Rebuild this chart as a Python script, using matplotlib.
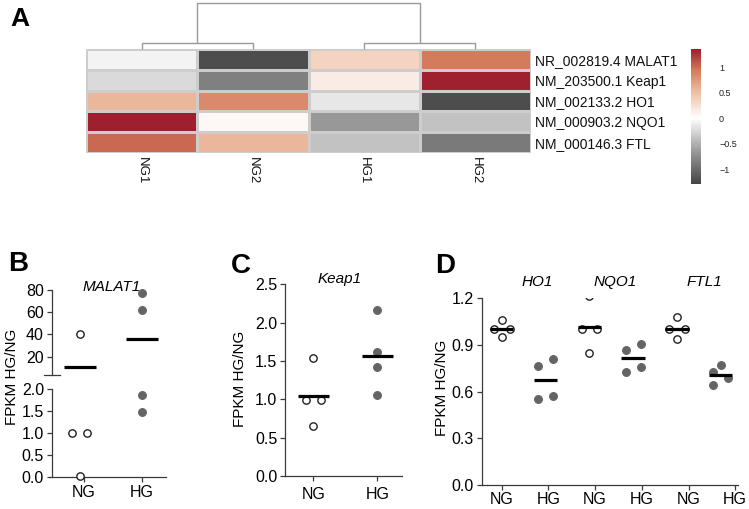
import numpy as np
import matplotlib
matplotlib.use('Agg')
import matplotlib.pyplot as plt
from matplotlib.colors import LinearSegmentedColormap, Normalize

plt.rcParams['font.family'] = ['Liberation Sans', 'DejaVu Sans']

# ---------------- data ----------------
samples = ['NG1', 'NG2', 'HG1', 'HG2']
genes = ['NR_002819.4 MALAT1', 'NM_203500.1 Keap1', 'NM_002133.2 HO1',
         'NM_000903.2 NQO1', 'NM_000146.3 FTL']
malat1_z = [-0.08, -1.23, 0.35, 0.94]
keap1_z = [-0.24, -0.85, 0.15, 1.34]
ho1_z = [0.56, 0.85, -0.15, -1.23]
nqo1_z = [1.35, 0.06, -0.66, -0.39]
ftl_z = [1.02, 0.56, -0.39, -0.89]
merge_ng, merge_hg, merge_root = 1.42, 1.29, 10.0
cbar_ticks = [-1, -0.5, 0, 0.5, 1]

groups = ['NG', 'HG']
malat1_ng = [40, 1.0, 1.0, 0.02]
malat1_hg = [77, 62, 1.87, 1.49]
keap1_ng = [1.535, 0.99, 0.99, 0.652]
keap1_hg = [2.165, 1.613, 1.417, 1.056]
ho1_ng = [1.06, 1.0, 1.0, 0.954]
ho1_hg = [0.765, 0.808, 0.551, 0.574]
nqo1_ng = [1.215, 1.0, 1.0, 0.846]
nqo1_hg = [0.868, 0.906, 0.728, 0.756]
ftl1_ng = [1.078, 1.0, 1.0, 0.938]
ftl1_hg = [0.771, 0.728, 0.686, 0.643]
d_genes = ['HO1', 'NQO1', 'FTL1']
ylabel = 'FPKM HG/NG'

# ---------------- layout helpers ----------------
W, H = 749, 509
fig = plt.figure(figsize=(W / 100, H / 100), dpi=100)


def fx(p):
    return p / W


def fy(p):
    return 1 - p / H


def box(x0, y0, x1, y1):
    return [fx(x0), fy(y1), (x1 - x0) / W, (y1 - y0) / H]


AX_COL = '#3a3a3a'
TICK_FS = 11.5
OPEN = dict(marker='o', ls='none', ms=5.3, mfc='white', mec='#222222', mew=1.0, zorder=3)
FILL = dict(marker='o', ls='none', ms=5.6, mfc='#646464', mec='#646464', mew=0.8, zorder=3)


def style(ax, bottom=True):
    for s in ['top', 'right']:
        ax.spines[s].set_visible(False)
    ax.spines['left'].set_color(AX_COL)
    ax.spines['left'].set_linewidth(0.9)
    ax.spines['bottom'].set_color(AX_COL)
    ax.spines['bottom'].set_linewidth(0.9)
    if not bottom:
        ax.spines['bottom'].set_visible(False)
        ax.tick_params(axis='x', bottom=False, labelbottom=False)
    ax.tick_params(direction='out', length=3.6, width=0.9, color=AX_COL,
                   labelsize=TICK_FS, pad=2)
    ax.patch.set_alpha(0)


# ---------------- Panel A: heatmap ----------------
cmap = LinearSegmentedColormap.from_list(
    'rdgy', [(0.0, '#454545'), (0.244, '#9a9a9a'), (0.489, '#ffffff'),
             (0.677, '#efc1a6'), (0.846, '#d47a5a'), (1.0, '#9e1f2e')])
norm = Normalize(vmin=-1.3, vmax=1.36)
Z = np.array([malat1_z, keap1_z, ho1_z, nqo1_z, ftl_z])

axh = fig.add_axes(box(86, 49.3, 531, 152.7))
mesh = axh.pcolormesh(np.arange(len(samples) + 1), np.arange(len(genes) + 1), Z,
                      cmap=cmap, norm=norm, edgecolors='#cdcdcd', linewidth=0.8)
axh.set_xlim(0, len(samples))
axh.set_ylim(len(genes), 0)
for s in axh.spines.values():
    s.set_visible(False)
axh.yaxis.tick_right()
axh.set_yticks(np.arange(len(genes)) + 0.5)
axh.set_yticklabels(genes, fontsize=10)
axh.set_xticks(np.arange(len(samples)) + 0.5)
axh.set_xticklabels(samples, rotation=270, fontsize=9.5, va='top', ha='center')
axh.tick_params(length=0, pad=3, colors='#111111')

# dendrogram
axd = fig.add_axes(box(86, 2.7, 531, 49.3))
axd.set_xlim(0, len(samples))
axd.set_ylim(0, merge_root)
axd.axis('off')
leaf = np.arange(len(samples)) + 0.5
DC = dict(color='#9a9a9a', lw=1.0, clip_on=False, solid_capstyle='butt')
c_ng = (leaf[0] + leaf[1]) / 2
c_hg = (leaf[2] + leaf[3]) / 2
axd.plot([leaf[0], leaf[0], leaf[1], leaf[1]], [0, merge_ng, merge_ng, 0], **DC)
axd.plot([leaf[2], leaf[2], leaf[3], leaf[3]], [0, merge_hg, merge_hg, 0], **DC)
axd.plot([c_ng, c_ng, c_hg, c_hg], [merge_ng, merge_root, merge_root, merge_hg], **DC)

# colorbar
cax = fig.add_axes(box(691, 49.3, 701, 184.3))
cb = fig.colorbar(mesh, cax=cax, ticks=cbar_ticks)
cb.outline.set_visible(False)
cb.ax.set_yticklabels([f'{t:g}'.replace('-', '\u2212') for t in cbar_ticks])
cb.ax.tick_params(length=0, labelsize=6.5, pad=13, colors='#222222')

fig.text(fx(20), fy(19), 'A', fontsize=19, fontweight='bold', ha='center', va='center')

# ---------------- Panel B: MALAT1 (broken axis) ----------------
b_center = [-0.065, 1.0]
b_ng_off = [0, -0.13, 0.13, 0]
b_hg_off = [0, 0, 0, 0]
b_xlim = (-0.55, 1.41)
axb_top = fig.add_axes(box(51.7, 290, 165.7, 375))
axb_bot = fig.add_axes(box(51.7, 389.3, 165.7, 476.7))
for ax, lo, hi in [(axb_top, 3.5, 80), (axb_bot, 0, 2.0)]:
    for c, offs, vals, st in [(b_center[0], b_ng_off, malat1_ng, OPEN),
                              (b_center[1], b_hg_off, malat1_hg, FILL)]:
        xs = np.array([c + o for o in offs])
        ys = np.array(vals, float)
        keep = (ys >= lo) & (ys <= hi)
        ax.plot(xs[keep], ys[keep], **st, clip_on=False)
        m = np.mean(vals)
        if lo <= m <= hi:
            ax.hlines(m, c - 0.27, c + 0.27, color='black', lw=2.3, zorder=4)
    ax.set_xlim(*b_xlim)
    ax.set_ylim(lo, hi)
style(axb_top, bottom=False)
style(axb_bot)
axb_top.set_yticks([20, 40, 60, 80])
axb_top.plot([-0.07, 0.07], [0, 0], transform=axb_top.transAxes, color=AX_COL,
             lw=0.9, clip_on=False)
axb_bot.set_yticks([0, 0.5, 1.0, 1.5, 2.0])
axb_bot.set_yticklabels(['0.0', '0.5', '1.0', '1.5', '2.0'])
axb_bot.set_xticks([0, 1])
axb_bot.set_xticklabels(groups)
axb_bot.tick_params(axis='x', pad=2.5)
fig.text(fx(112), fy(291), 'MALAT1', fontsize=11, style='italic', ha='center', va='baseline')
fig.text(fx(12), fy(377), ylabel, fontsize=11, rotation=90, ha='center', va='center')
fig.text(fx(18), fy(264), 'B', fontsize=20, fontweight='bold', ha='center', va='center')

# ---------------- Panel C: Keap1 ----------------
c_center = [0.0, 1.0]
c_ng_off = [0, -0.12, 0.12, 0]
c_hg_off = [0, 0, 0, 0]
axc = fig.add_axes(box(285, 284.3, 401.7, 476))
axc.plot([c_center[0] + o for o in c_ng_off], keap1_ng, **OPEN, clip_on=False)
axc.plot([c_center[1] + o for o in c_hg_off], keap1_hg, **FILL, clip_on=False)
for c, vals in zip(c_center, [keap1_ng, keap1_hg]):
    axc.hlines(np.mean(vals), c - 0.245, c + 0.245, color='black', lw=2.3, zorder=4)
axc.set_xlim(-0.44, 1.38)
axc.set_ylim(0, 2.5)
style(axc)
axc.set_yticks([0, 0.5, 1.0, 1.5, 2.0, 2.5])
axc.set_yticklabels(['0.0', '0.5', '1.0', '1.5', '2.0', '2.5'])
axc.set_xticks([0, 1])
axc.set_xticklabels(groups)
axc.tick_params(axis='x', pad=4)
fig.text(fx(340), fy(283), 'Keap1', fontsize=11, style='italic', ha='center', va='baseline')
fig.text(fx(240), fy(379), ylabel, fontsize=11, rotation=90, ha='center', va='center')
fig.text(fx(241), fy(266), 'C', fontsize=20, fontweight='bold', ha='center', va='center')

# ---------------- Panel D: HO1 / NQO1 / FTL1 ----------------
d_data = [ho1_ng, ho1_hg, nqo1_ng, nqo1_hg, ftl1_ng, ftl1_hg]
d_centers = np.arange(6) * 0.938
d_offsets = [[0, -0.17, 0.17, 0], [-0.16, 0.16, -0.16, 0.16],
             [0, -0.165, 0.16, 0], [-0.16, 0.16, -0.16, 0.16],
             [0, -0.17, 0.17, 0], [0.0, -0.155, 0.155, -0.155]]
axdd = fig.add_axes(box(481.7, 298.3, 738, 485))
for i, (vals, c, off) in enumerate(zip(d_data, d_centers, d_offsets)):
    st = OPEN if i % 2 == 0 else FILL
    axdd.plot([c + o for o in off], vals, **st)
    axdd.hlines(np.mean(vals), c - 0.25, c + 0.25, color='black', lw=2.3, zorder=4)
axdd.set_xlim(-0.43, 5.06)
axdd.set_ylim(0, 1.2)
style(axdd)
axdd.set_yticks([0, 0.3, 0.6, 0.9, 1.2])
axdd.set_yticklabels(['0.0', '0.3', '0.6', '0.9', '1.2'])
axdd.set_xticks(np.arange(6))
axdd.set_xticklabels(groups * 3)
axdd.tick_params(axis='x', pad=1.5)
for g, xp in zip(d_genes, [537, 615, 704]):
    fig.text(fx(xp), fy(286), g, fontsize=11, style='italic', ha='center', va='baseline')
fig.text(fx(442), fy(388), ylabel, fontsize=11, rotation=90, ha='center', va='center')
fig.text(fx(445), fy(266), 'D', fontsize=20, fontweight='bold', ha='center', va='center')

fig.savefig('out.png', dpi=100)
